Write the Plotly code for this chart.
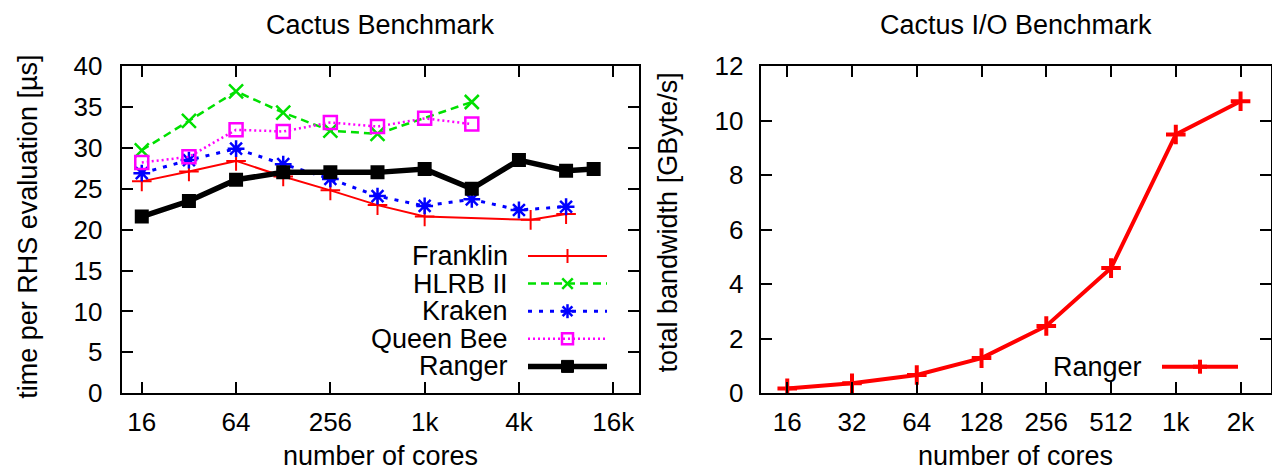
import math
import plotly.graph_objects as go

W, H = 1272, 473

# ---------------- data (left: Cactus Benchmark) ----------------
franklin_cores = [16, 32, 64, 128, 256, 512, 1024, 4864, 8192]
franklin_time = [25.9, 27.1, 28.4, 26.5, 24.8, 23.0, 21.6, 21.2, 21.9]

hlrb_cores = [16, 32, 64, 128, 256, 512, 2048]
hlrb_time = [29.7, 33.3, 36.9, 34.3, 32.1, 31.7, 35.6]

kraken_cores = [16, 32, 64, 128, 256, 512, 1024, 2048, 4096, 8192]
kraken_time = [26.9, 28.5, 29.9, 28.0, 26.2, 24.1, 22.9, 23.7, 22.4, 22.8]

queenbee_cores = [16, 32, 64, 128, 256, 512, 1024, 2048]
queenbee_time = [28.2, 28.9, 32.2, 32.0, 33.1, 32.6, 33.6, 32.9]

ranger_cores = [16, 32, 64, 128, 256, 512, 1024, 2048, 4096, 8192, 12288]
ranger_time = [21.6, 23.5, 26.1, 27.0, 27.0, 27.0, 27.4, 25.0, 28.5, 27.2, 27.4]

left_tickvals = [16, 64, 256, 1024, 4096, 16384]
left_ticktext = ["16", "64", "256", "1k", "4k", "16k"]
left_yticks = [0, 5, 10, 15, 20, 25, 30, 35, 40]

# ---------------- data (right: Cactus I/O Benchmark) ----------------
io_cores = [16, 32, 64, 128, 256, 512, 1024, 2048]
io_bw = [0.18, 0.37, 0.67, 1.29, 2.47, 4.59, 9.49, 10.71]

right_tickvals = [16, 32, 64, 128, 256, 512, 1024, 2048]
right_ticktext = ["16", "32", "64", "128", "256", "512", "1k", "2k"]
right_yticks = [0, 2, 4, 6, 8, 10, 12]

FONT = "Liberation Sans, Arial, Helvetica, sans-serif"
FS = 27
TFS = 26
RED, GREEN, BLUE, MAG, BLACK = "#ff0000", "#00e000", "#0000ff", "#ff00ff", "#000000"


def fx(x):
    return x / W


def fy(y):
    return 1 - y / H


fig = go.Figure()

fig.add_trace(go.Scatter(x=franklin_cores, y=franklin_time, mode="lines+markers", name="Franklin",
                         line=dict(color=RED, width=2),
                         marker=dict(symbol="cross-thin", size=14, line=dict(color=RED, width=2)),
                         xaxis="x", yaxis="y"))
fig.add_trace(go.Scatter(x=hlrb_cores, y=hlrb_time, mode="lines+markers", name="HLRB II",
                         line=dict(color=GREEN, width=2.5, dash="8px,5px"),
                         marker=dict(symbol="x-thin", size=14, line=dict(color=GREEN, width=2.5)),
                         xaxis="x", yaxis="y"))
fig.add_trace(go.Scatter(x=kraken_cores, y=kraken_time, mode="lines+markers", name="Kraken",
                         line=dict(color=BLUE, width=3, dash="4px,7px"),
                         marker=dict(symbol="asterisk-open", size=14, line=dict(color=BLUE, width=2.5)),
                         xaxis="x", yaxis="y"))
fig.add_trace(go.Scatter(x=queenbee_cores, y=queenbee_time, mode="lines+markers", name="Queen Bee",
                         line=dict(color=MAG, width=2.5, dash="2px,3px"),
                         marker=dict(symbol="square-open", size=13, line=dict(color=MAG, width=2.5)),
                         xaxis="x", yaxis="y"))
fig.add_trace(go.Scatter(x=ranger_cores, y=ranger_time, mode="lines+markers", name="Ranger",
                         line=dict(color=BLACK, width=5.5),
                         marker=dict(symbol="square", size=14, color=BLACK),
                         xaxis="x", yaxis="y"))

fig.add_trace(go.Scatter(x=io_cores, y=io_bw, mode="lines+markers", name="Ranger",
                         line=dict(color=RED, width=4),
                         marker=dict(symbol="cross-thin", size=14, line=dict(color=RED, width=4)),
                         xaxis="x2", yaxis="y2"))

axis_common = dict(showline=True, linecolor="black", linewidth=2, mirror="ticks",
                   ticks="inside", ticklen=11, tickwidth=1.5, tickcolor="black",
                   showgrid=False, zeroline=False, automargin=False,
                   tickfont=dict(family=FONT, size=TFS, color="black"))

L0, L1 = 121.7, 639.3
R0, R1 = 760.7, 1271.0
T, B = 66.0, 393.3

fig.update_layout(
    width=W, height=H, margin=dict(l=0, r=0, t=0, b=0, autoexpand=False),
    paper_bgcolor="white", plot_bgcolor="white", showlegend=False,
    xaxis=dict(axis_common, type="log", domain=[fx(L0), fx(L1)],
               range=[math.log10(2 ** 3.574), math.log10(2 ** 14.553)],
               tickvals=left_tickvals, ticktext=left_ticktext, ticklabelstandoff=4,
               anchor="y"),
    yaxis=dict(axis_common, domain=[fy(B), fy(T)], range=[0, 40], tickvals=left_yticks,
               ticklabelstandoff=12, anchor="x"),
    xaxis2=dict(axis_common, type="log", domain=[fx(R0), fx(R1)],
                range=[math.log10(2 ** 3.59), math.log10(2 ** 11.47)],
                tickvals=right_tickvals, ticktext=right_ticktext, ticklabelstandoff=4,
                anchor="y2"),
    yaxis2=dict(axis_common, domain=[fy(B), fy(T)], range=[0, 12], tickvals=right_yticks,
                ticklabelstandoff=10, anchor="x2"),
)

ann = []


def text(x, y, s, xanchor="center", angle=0, size=FS, yanchor="middle"):
    ann.append(dict(x=fx(x), y=fy(y), xref="paper", yref="paper", text=s, showarrow=False,
                    xanchor=xanchor, yanchor=yanchor, textangle=angle,
                    font=dict(family=FONT, size=size, color="black")))


text((L0 + L1) / 2, 25, "Cactus Benchmark")
text((R0 + R1) / 2, 25, "Cactus I/O Benchmark")
text((L0 + L1) / 2, 473, "number of cores", yanchor="bottom")
text((R0 + R1) / 2, 473, "number of cores", yanchor="bottom")
text(28, 226.7, "time per RHS evaluation [µs]", angle=-90)
text(667, 222.5, "total bandwidth [GByte/s]", angle=-90)

# ---- manual legends (key text on the left, sample on the right, gnuplot style) ----
shapes = []


def seg(x0, y0, x1, y1, color, width, dash="solid"):
    shapes.append(dict(type="line", xref="paper", yref="paper", x0=fx(x0), y0=fy(y0),
                       x1=fx(x1), y1=fy(y1), line=dict(color=color, width=width, dash=dash)))


def rect(x0, y0, x1, y1, color, width, fill=None):
    shapes.append(dict(type="rect", xref="paper", yref="paper", x0=fx(x0), y0=fy(y0),
                       x1=fx(x1), y1=fy(y1), line=dict(color=color, width=width),
                       fillcolor=fill if fill else "rgba(0,0,0,0)"))


def key_marker(kind, cx, cy, color, lw):
    r = 7
    if kind == "plus":
        seg(cx - r, cy, cx + r, cy, color, lw)
        seg(cx, cy - r, cx, cy + r, color, lw)
    elif kind == "x":
        seg(cx - r * 0.75, cy - r * 0.75, cx + r * 0.75, cy + r * 0.75, color, lw)
        seg(cx - r * 0.75, cy + r * 0.75, cx + r * 0.75, cy - r * 0.75, color, lw)
    elif kind == "star":
        seg(cx - r, cy, cx + r, cy, color, lw)
        seg(cx, cy - r, cx, cy + r, color, lw)
        seg(cx - r * 0.7, cy - r * 0.7, cx + r * 0.7, cy + r * 0.7, color, lw)
        seg(cx - r * 0.7, cy + r * 0.7, cx + r * 0.7, cy - r * 0.7, color, lw)
    elif kind == "sq":
        rect(cx - 5.5, cy - 5.5, cx + 5.5, cy + 5.5, color, lw)
    elif kind == "fsq":
        rect(cx - 6, cy - 6, cx + 6, cy + 6, color, 1, fill=color)


left_keys = [
    ("Franklin", RED, 2, "solid", "plus", 2),
    ("HLRB II", GREEN, 2.5, "8px,5px", "x", 2.5),
    ("Kraken", BLUE, 3, "4px,7px", "star", 2.5),
    ("Queen Bee", MAG, 2.5, "2px,3px", "sq", 2.5),
    ("Ranger", BLACK, 5.5, "solid", "fsq", 1),
]
ky = 256.0
for name, col, w, d, mk, mw in left_keys:
    text(510, ky, name, xanchor="right")
    seg(528, ky, 607, ky, col, w, d)
    key_marker(mk, 567.5, ky, col, mw)
    ky += 27.6

text(1144, 366.7, "Ranger", xanchor="right")
seg(1162, 366.7, 1238, 366.7, RED, 4)
key_marker("plus", 1200, 366.7, RED, 4)

fig.update_layout(annotations=ann, shapes=shapes)
fig.write_html("out.html")
